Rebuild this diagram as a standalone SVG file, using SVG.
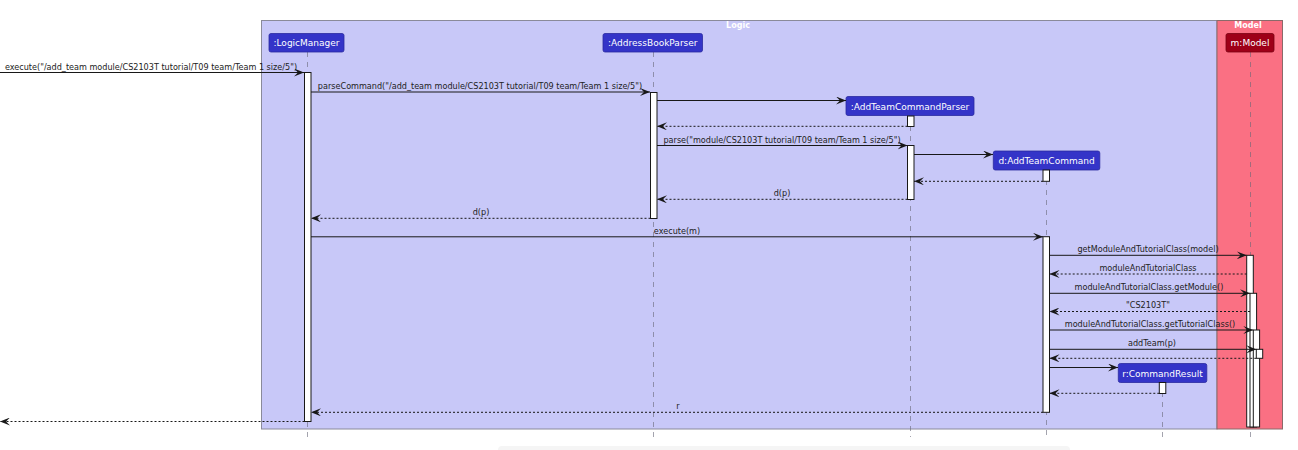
<svg xmlns="http://www.w3.org/2000/svg" width="1298" height="450" viewBox="0 0 1298 450">
<defs>
<marker id="ah" viewBox="0 0 10 8" refX="10" refY="4" markerWidth="10" markerHeight="8" markerUnits="userSpaceOnUse" orient="auto">
<path d="M0,0 L10,4 L0,8 L4,4 Z" fill="#181818"/>
</marker>
<style>
.frame-logic{fill:#C8C8F8;stroke:#8a8a9a;stroke-width:1}
.frame-model{fill:#FA7083;stroke:#8a6a6a;stroke-width:1}
.ftitle{font-family:"DejaVu Sans",sans-serif;font-size:8px;font-weight:bold;fill:#ffffff;text-anchor:middle}
.pbox{fill:#3434C8;stroke:#2a2aa0;stroke-width:0.8}
.pbox-m{fill:#9E0018;stroke:#7a0012;stroke-width:0.8}
.ptext{font-family:"DejaVu Sans",sans-serif;font-size:9px;fill:#ffffff;text-anchor:middle}
.life{stroke:#666677;stroke-width:0.6;stroke-dasharray:5,5;fill:none}
.act{fill:#ffffff;stroke:#181818;stroke-width:1}
.msg{stroke:#181818;stroke-width:1;fill:none;marker-end:url(#ah)}
.ret{stroke:#181818;stroke-width:1;stroke-dasharray:2,2;fill:none;marker-end:url(#ah)}
.lbl{font-family:"DejaVu Sans",sans-serif;font-size:8.1px;fill:#222222;text-anchor:middle}
</style>
</defs>
<rect x="0" y="0" width="1298" height="450" fill="#ffffff"/>
<rect x="498" y="446" width="572" height="10" rx="4" fill="#f5f5f5"/>

<g id="frame-logic">
<rect class="frame-logic" x="261.5" y="20.5" width="955.5" height="408.5"/>
<text class="ftitle" x="738" y="27.5">Logic</text>
</g>
<g id="frame-model">
<rect class="frame-model" x="1217" y="20.5" width="65.5" height="408.5"/>
<text class="ftitle" x="1248" y="27.5">Model</text>
</g>

<g id="lifelines">
<line class="life" x1="307.5" y1="52" x2="307.5" y2="437"/>
<line class="life" x1="653.5" y1="52" x2="653.5" y2="437"/>
<line class="life" x1="910.5" y1="116" x2="910.5" y2="437"/>
<line class="life" x1="1046.5" y1="170" x2="1046.5" y2="437"/>
<line class="life" x1="1162.5" y1="382" x2="1162.5" y2="437"/>
<line class="life" x1="1250.5" y1="52" x2="1250.5" y2="437"/>
</g>

<g id="LogicManager">
<rect class="pbox" x="269" y="33.5" width="75" height="18.5" rx="2"/>
<text class="ptext" x="306.5" y="46">:LogicManager</text>
<rect class="act" x="304.5" y="72.5" width="6.5" height="349"/>
</g>
<g id="AddressBookParser">
<rect class="pbox" x="603" y="33.5" width="99.5" height="18.5" rx="2"/>
<text class="ptext" x="652.8" y="46">:AddressBookParser</text>
<rect class="act" x="650.5" y="92.5" width="6.5" height="126"/>
</g>
<g id="AddTeamCommandParser">
<rect class="pbox" x="846" y="96.5" width="128" height="19" rx="2"/>
<text class="ptext" x="910" y="109.5">:AddTeamCommandParser</text>
<rect class="act" x="907.5" y="116" width="6.5" height="10.5"/>
<rect class="act" x="907.5" y="145.5" width="6.5" height="54"/>
</g>
<g id="AddTeamCommand">
<rect class="pbox" x="993.3" y="151" width="106.5" height="19" rx="2"/>
<text class="ptext" x="1046.5" y="164">d:AddTeamCommand</text>
<rect class="act" x="1043" y="170" width="6.5" height="11.3"/>
<rect class="act" x="1043" y="236.7" width="6.5" height="175.6"/>
</g>
<g id="CommandResult">
<rect class="pbox" x="1118.3" y="363.5" width="88.5" height="19" rx="2"/>
<text class="ptext" x="1162.5" y="376.5">r:CommandResult</text>
<rect class="act" x="1159.3" y="382.5" width="6.5" height="11"/>
</g>
<g id="Model">
<rect class="pbox-m" x="1226" y="33.5" width="48" height="18.5" rx="2"/>
<text class="ptext" x="1250" y="46" fill="#ffdddd">m:Model</text>
<rect class="act" x="1246.7" y="255.3" width="6.6" height="171.7"/>
<rect class="act" x="1250" y="293.3" width="6.6" height="133.7"/>
<rect class="act" x="1253.3" y="330" width="6.3" height="97"/>
<rect class="act" x="1256.3" y="349.3" width="6.4" height="9"/>
</g>

<g id="connectors">
<line class="msg" x1="0" y1="72.5" x2="304" y2="72.5"/>
<text class="lbl" x="151" y="69.5">execute("/add_team module/CS2103T tutorial/T09 team/Team 1 size/5")</text>

<line class="msg" x1="311" y1="92" x2="650" y2="92"/>
<text class="lbl" x="480" y="89">parseCommand("/add_team module/CS2103T tutorial/T09 team/Team 1 size/5")</text>

<line class="msg" x1="657" y1="100.5" x2="846" y2="100.5"/>
<line class="ret" x1="907.5" y1="126.3" x2="657" y2="126.3"/>

<line class="msg" x1="657" y1="145.5" x2="907.5" y2="145.5"/>
<text class="lbl" x="782" y="142.5">parse("module/CS2103T tutorial/T09 team/Team 1 size/5")</text>

<line class="msg" x1="914" y1="154.5" x2="993" y2="154.5"/>
<line class="ret" x1="1043" y1="181.3" x2="914" y2="181.3"/>

<line class="ret" x1="907.5" y1="199.3" x2="657" y2="199.3"/>
<text class="lbl" x="782" y="196">d(p)</text>

<line class="ret" x1="650.5" y1="218.3" x2="311" y2="218.3"/>
<text class="lbl" x="481" y="215">d(p)</text>

<line class="msg" x1="311" y1="236.8" x2="1043" y2="236.8"/>
<text class="lbl" x="677" y="233.5">execute(m)</text>

<line class="msg" x1="1049.5" y1="255.3" x2="1246.7" y2="255.3"/>
<text class="lbl" x="1148" y="252">getModuleAndTutorialClass(model)</text>

<line class="ret" x1="1246.7" y1="274" x2="1049.5" y2="274"/>
<text class="lbl" x="1148" y="270.8">moduleAndTutorialClass</text>

<line class="msg" x1="1049.5" y1="293.3" x2="1250" y2="293.3"/>
<text class="lbl" x="1149" y="290">moduleAndTutorialClass.getModule()</text>

<line class="ret" x1="1250" y1="311.5" x2="1049.5" y2="311.5"/>
<text class="lbl" x="1148" y="308.3">"CS2103T"</text>

<line class="msg" x1="1049.5" y1="330" x2="1253.3" y2="330"/>
<text class="lbl" x="1150" y="326.8">moduleAndTutorialClass.getTutorialClass()</text>

<line class="msg" x1="1049.5" y1="349.3" x2="1256.3" y2="349.3"/>
<text class="lbl" x="1152" y="346">addTeam(p)</text>

<line class="ret" x1="1256.3" y1="358.3" x2="1049.5" y2="358.3"/>

<line class="msg" x1="1049.5" y1="367.5" x2="1118" y2="367.5"/>
<line class="ret" x1="1159.3" y1="393.3" x2="1049.5" y2="393.3"/>

<line class="ret" x1="1043" y1="412.3" x2="311" y2="412.3"/>
<text class="lbl" x="678" y="409">r</text>

<line class="ret" x1="304.5" y1="421.5" x2="0" y2="421.5"/>
</g>
</svg>
